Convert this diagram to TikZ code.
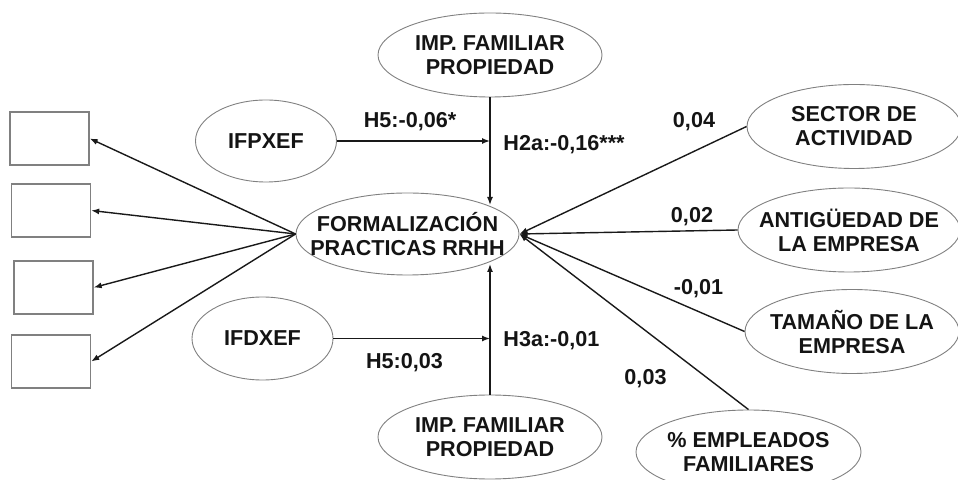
\documentclass[tikz,border=0pt]{standalone}
\usepackage{fontspec}
\setmainfont{Liberation Sans}
\usetikzlibrary{shapes.geometric,arrows.meta}
\begin{document}
\begin{tikzpicture}[x=0.5pt,y=-0.5pt,
  every node/.style={font=\fontsize{10.8}{12}\selectfont\bfseries, text=black!92},
  oval/.style={draw=black!50, line width=0.45pt, ellipse, inner xsep=-20pt,
    inner ysep=0pt, align=center, minimum height=42pt},
  indicator/.style={draw=black!50, line width=0.7pt, rectangle, inner sep=0pt,
    minimum width=39.5pt, minimum height=26.5pt},
  arr/.style={draw=black!90, line width=0.7pt, -{Latex[length=4pt,width=3pt]}},
  coef/.style={inner sep=0pt, anchor=base}]
  \useasboundingbox (0,0) rectangle (958,480);

  % latent constructs
  \node[oval, minimum width=111.5pt, minimum height=41pt] (formal) at (407.5,234)
    {FORMALIZACIÓN\\PRACTICAS RRHH};
  \node[oval, minimum width=112pt] (impT) at (490,55) {IMP. FAMILIAR\\PROPIEDAD};
  \node[oval, minimum width=112pt] (impB) at (490,437) {IMP. FAMILIAR\\PROPIEDAD};
  \node[oval, minimum width=70.5pt, minimum height=41pt] (ifp) at (266,141) {IFPXEF};
  \node[oval, minimum width=70.5pt, minimum height=41.5pt] (ifd) at (262.5,338.5) {IFDXEF};

  % control variables
  \node[oval, minimum width=107pt] (sector) at (854,126.5) {SECTOR DE\\ACTIVIDAD};
  \node[oval, minimum width=111pt] (antig) at (849,230) {ANTIGÜEDAD DE\\LA EMPRESA};
  \node[oval, minimum width=107pt] (tam) at (852,331.5) {TAMAÑO DE LA\\EMPRESA};
  \node[oval, minimum width=112.5pt] (empl) at (748.5,452) {\% EMPLEADOS\\FAMILIARES};

  % indicators
  \node[indicator] (b1) at (49.5,138.5) {};
  \node[indicator] (b2) at (51,210.5) {};
  \node[indicator] (b3) at (53.5,287.5) {};
  \node[indicator] (b4) at (51,361.5) {};

  % tips of the moderated paths on the outcome border
  \coordinate (tipT) at (490,205);
  \coordinate (tipB) at (490,264);

  % structural paths
  \draw[arr] (impT.south) -- (tipT);
  \draw[arr] (impB.north) -- (tipB);
  \draw[arr] (ifp.east) -- (ifp.east -| impT.south);
  \draw[arr] (ifd.east) -- (ifd.east -| impB.north);

  \draw[arr] (sector.west) -- (formal.east);
  \draw[arr] (antig.west) -- (formal.east);
  \draw[arr] (tam.west) -- (formal.east);
  \draw[arr] (empl.north) -- (formal.east);

  % measurement paths
  \foreach \b in {b1,b2,b3,b4}
    \draw[arr] (formal.west) -- (\b.east);

  % path coefficients
  \node[coef] (c1) at (410,128) {H5:-0,06*};
  \node[coef, anchor=base west] (c2) at (503,151) {H2a:-0,16***};
  \node[coef] (c3) at (694,128) {0,04};
  \node[coef] (c4) at (692,223) {0,02};
  \node[coef] (c5) at (698.5,295) {-0,01};
  \node[coef, anchor=base west] (c6) at (503,347) {H3a:-0,01};
  \node[coef] (c7) at (645.5,385) {0,03};
  \node[coef] (c8) at (404.5,369) {H5:0,03};
\end{tikzpicture}
\end{document}
